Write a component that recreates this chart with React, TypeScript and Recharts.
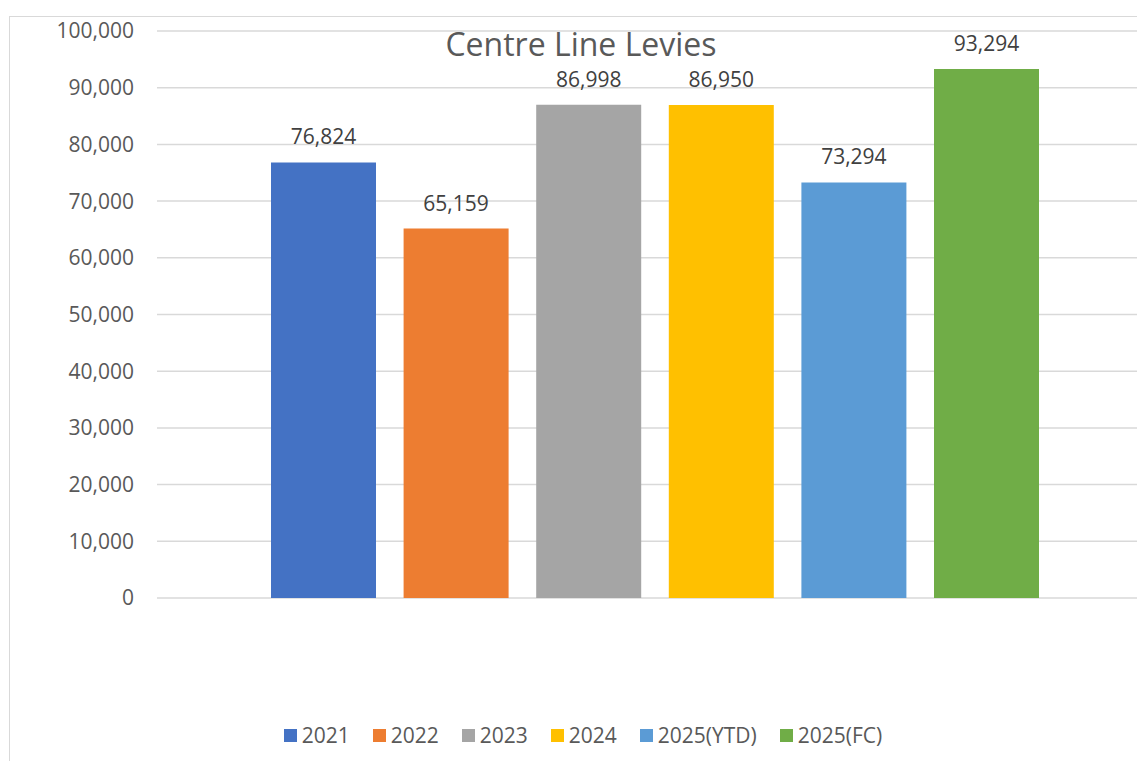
import React from "react";
import {
  BarChart,
  Bar,
  XAxis,
  YAxis,
  CartesianGrid,
  LabelList,
} from "recharts";

const CATEGORY = "Centre Line Levies";
const SERIES = ["2021", "2022", "2023", "2024", "2025(YTD)", "2025(FC)"];
const VALUES = [76824, 65159, 86998, 86950, 73294, 93294];
const COLORS = ["#4472C4", "#ED7D31", "#A5A5A5", "#FFC000", "#5B9BD5", "#70AD47"];
const Y_TICKS = [0, 10000, 20000, 30000, 40000, 50000, 60000, 70000, 80000, 90000, 100000];

const row: Record<string, string | number> = { name: CATEGORY };
SERIES.forEach((s, i) => {
  row[s] = VALUES[i];
});
const data = [row];

const fmt = (v: number) => v.toLocaleString("en-US");
const FONT = "'Open Sans', 'Noto Sans', sans-serif";

export default function App() {
  return (
    <div
      style={{
        position: "absolute",
        left: 0,
        top: 0,
        width: 1137,
        height: 761,
        overflow: "hidden",
        background: "#fff",
        fontFamily: FONT,
      }}
    >
      {/* chart frame, runs off the right and bottom edge like the source */}
      <div
        style={{
          position: "absolute",
          left: 9,
          top: 16,
          width: 1144,
          height: 780,
          border: "1px solid #d9d9d9",
          boxSizing: "border-box",
        }}
      />
      <div style={{ position: "absolute", left: 10, top: 17 }}>
        <BarChart
          width={1143}
          height={745}
          data={data}
          margin={{ top: 14, right: 0, bottom: 164, left: 0 }}
          barSize={105}
          barGap={27.6}
        >
          <CartesianGrid vertical={false} stroke="#d9d9d9" strokeWidth={1.5} />
          <XAxis dataKey="name" hide />
          <YAxis
            width={147}
            domain={[0, 100000]}
            ticks={Y_TICKS}
            tickFormatter={fmt}
            axisLine={false}
            tickLine={false}
            tickSize={0}
            tickMargin={23}
            tick={{ fill: "#595959", fontSize: 21, fontFamily: FONT }}
          />
          {SERIES.map((s, i) => (
            <Bar key={s} dataKey={s} fill={COLORS[i]} isAnimationActive={false}>
              <LabelList
                dataKey={s}
                position="top"
                offset={18}
                formatter={(v: any) => fmt(Number(v))}
                style={{ fill: "#404040", fontSize: 21, fontFamily: FONT }}
              />
            </Bar>
          ))}
          <text
            x={571}
            y={39}
            textAnchor="middle"
            fill="#595959"
            fontSize={32}
            fontFamily={FONT}
          >
            {CATEGORY}
          </text>
        </BarChart>
      </div>

      {/* Legend */}
      <div
        style={{
          position: "absolute",
          left: 0,
          width: 1166,
          top: 720,
          display: "flex",
          justifyContent: "center",
          gap: 23,
          fontSize: 21,
          lineHeight: "30px",
          color: "#595959",
        }}
      >
        {SERIES.map((s, i) => (
          <div key={s} style={{ display: "flex", alignItems: "center", gap: 5 }}>
            <div style={{ width: 13, height: 13, backgroundColor: COLORS[i] }} />
            <span>{s}</span>
          </div>
        ))}
      </div>
    </div>
  );
}
